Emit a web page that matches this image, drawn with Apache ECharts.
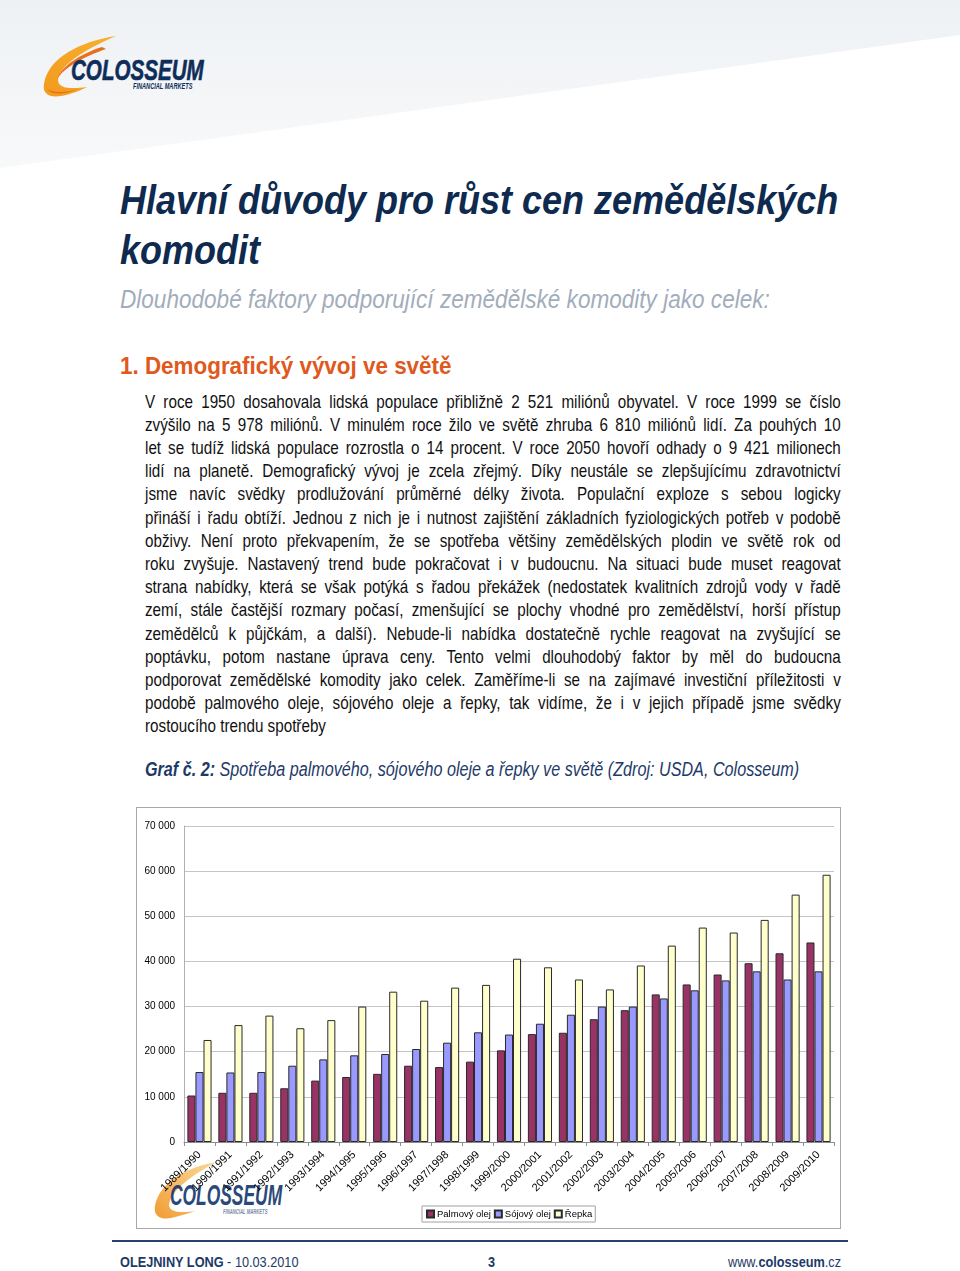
<!DOCTYPE html>
<html lang="cs">
<head>
<meta charset="utf-8">
<script src="https://cdn.jsdelivr.net/npm/echarts@6/dist/echarts.min.js"></script>
<style>
  html, body { margin: 0; padding: 0; }
  body { width: 960px; height: 1271px; position: relative; overflow: hidden; background: #fff;
         font-family: "Liberation Sans", Arial, sans-serif; }
  .topbg { position: absolute; left: 0; top: 0; width: 960px; height: 175px;
           background: linear-gradient(180deg, #eef1f4 0%, #f4f6f8 60%, #f8f9fa 100%);
           clip-path: polygon(0 0, 960px 0, 960px 35px, 0 168px); }
  .t { position: absolute; white-space: nowrap; transform-origin: 0 50%; }
  .title { left: 120px; font-size: 40px; font-weight: bold; font-style: italic; color: #0f2a4f;
           line-height: 50px; height: 50px; transform: scaleX(0.9); }
  .sub { left: 120px; top: 284px; font-size: 25.5px; font-style: italic; color: #a2adbb; line-height: 30px;
         transform: scaleX(0.885); }
  .head { left: 120px; top: 351px; font-size: 24.5px; font-weight: bold; color: #e0581c; line-height: 30px;
          transform: scaleX(0.915); }
  .pl { position: absolute; left: 145px; width: 809px; font-size: 17.7px; line-height: 23px; color: #111;
        white-space: nowrap; text-align: justify; text-align-last: justify; transform: scaleX(0.86);
        transform-origin: 0 50%; }
  .pl.last { text-align-last: left; }
  .cap { left: 145px; top: 757px; font-size: 19.5px; font-style: italic; color: #1e3a68; line-height: 24px;
         transform: scaleX(0.829); }
  .foot { top: 1252px; font-size: 15.5px; color: #1e3a68; line-height: 20px; transform: scaleX(0.82); }
  .footline { position: absolute; left: 112px; top: 1240px; width: 736px; height: 2px; background: #27416b; }
  #chartbox { position: absolute; left: 136px; top: 807px; width: 705px; height: 422px;
              border: 1px solid #a8a8a8; box-sizing: border-box; }
  #chart { position: absolute; left: 0; top: 0; width: 703px; height: 420px; }
  .logo-word { position: absolute; white-space: nowrap; font-weight: bold; font-style: italic;
               color: #0e2d5a; transform-origin: 0 0; }
</style>
</head>
<body>
<div class="topbg"></div>

<!-- header logo -->
<svg style="position:absolute;left:0;top:0" width="240" height="110">
  <defs>
    <linearGradient id="sw" x1="0" y1="1" x2="1" y2="0">
      <stop offset="0" stop-color="#f39a1e"/>
      <stop offset="1" stop-color="#f7b12e"/>
    </linearGradient>
  </defs>
  <path d="M116,36 C82,41 48,57 44,84 C42,94 50,98 61,96 C72,94 81,90 87,87 C72,89 58,89 58,80 C60,64 88,48 116,36 Z" fill="url(#sw)"/>
  <path d="M102,47 C80,54 62,66 57,79 C64,68 83,57 106,49 Z" fill="#e8701a"/>
  <path d="M47,89 C52,95 63,95 78,89 C65,93 54,93 47,89 Z" fill="#e8701a"/>
</svg>
<div class="logo-word" style="left:71px;top:54px;font-size:29px;line-height:32px;transform:scaleX(0.71);-webkit-text-stroke:0.6px #0e2d5a;">COLOSSEUM</div>
<div class="logo-word" style="left:133px;top:81px;font-size:8.5px;line-height:10px;transform:scaleX(0.66);">FINANCIAL MARKETS</div>

<div class="t title" style="top:175px;">Hlavní důvody pro růst cen zemědělských</div>
<div class="t title" style="top:225px;">komodit</div>
<div class="t sub">Dlouhodobé faktory podporující zemědělské komodity jako celek:</div>
<div class="t head">1. Demografický vývoj ve světě</div>

<div id="para"></div>

<div class="t cap"><b>Graf č. 2:</b> Spotřeba palmového, sójového oleje a řepky ve světě (Zdroj: USDA, Colosseum)</div>

<div id="chartbox">
  <!-- watermark logo behind the chart -->
  <svg style="position:absolute;left:12px;top:348px;opacity:0.9" width="70" height="70">
    <defs>
      <linearGradient id="sw2" x1="0" y1="1" x2="1" y2="0">
        <stop offset="0" stop-color="#f0901c"/>
        <stop offset="1" stop-color="#f7b640" stop-opacity="0.6"/>
      </linearGradient>
    </defs>
    <path d="M68,6 C40,10 10,26 6,50 C4,60 12,64 22,62 C32,60 40,57 46,55 C34,57 20,57 20,49 C22,34 44,18 68,6 Z" fill="url(#sw2)"/>
  </svg>
  <div class="logo-word" style="left:33px;top:372px;font-size:29px;line-height:30px;transform:scaleX(0.6);color:#173a6e;opacity:0.92;">COLOSSEUM</div>
  <div class="logo-word" style="left:86px;top:400px;font-size:7px;line-height:8px;transform:scaleX(0.6);color:#7a8aa5;">FINANCIAL MARKETS</div>
  <div id="chart"></div>
</div>

<div class="footline"></div>
<div class="t foot" style="left:120px;"><b>OLEJNINY LONG</b> - 10.03.2010</div>
<div class="t foot" style="left:488px;"><b>3</b></div>
<div class="t foot" id="www" style="left:726px;">www.<b>colosseum</b>.cz</div>

<script>
// ---- paragraph text (line by line, as in the reference) ----
const paragraphLines = [
  "V roce 1950 dosahovala lidská populace přibližně 2 521 miliónů obyvatel. V roce 1999 se číslo",
  "zvýšilo na 5 978 miliónů. V minulém roce žilo ve světě zhruba 6 810 miliónů lidí. Za pouhých 10",
  "let se tudíž lidská populace rozrostla o 14 procent. V roce 2050 hovoří odhady o 9 421 milionech",
  "lidí na planetě. Demografický vývoj je zcela zřejmý. Díky neustále se zlepšujícímu zdravotnictví",
  "jsme navíc svědky prodlužování průměrné délky života. Populační exploze s sebou logicky",
  "přináší i řadu obtíží. Jednou z nich je i nutnost zajištění základních fyziologických potřeb v podobě",
  "obživy. Není proto překvapením, že se spotřeba většiny zemědělských plodin ve světě rok od",
  "roku zvyšuje. Nastavený trend bude pokračovat i v budoucnu. Na situaci bude muset reagovat",
  "strana nabídky, která se však potýká s řadou překážek (nedostatek kvalitních zdrojů vody v řadě",
  "zemí, stále častější rozmary počasí, zmenšující se plochy vhodné pro zemědělství, horší přístup",
  "zemědělců k půjčkám, a další).  Nebude-li nabídka dostatečně rychle reagovat na zvyšující se",
  "poptávku, potom nastane úprava ceny. Tento velmi dlouhodobý faktor by měl do budoucna",
  "podporovat zemědělské komodity jako celek. Zaměříme-li se na zajímavé investiční příležitosti v",
  "podobě palmového oleje, sójového oleje a řepky, tak vidíme, že i v jejich případě jsme svědky",
  "rostoucího trendu spotřeby"
];
const para = document.getElementById('para');
paragraphLines.forEach((txt, i) => {
  const d = document.createElement('div');
  d.className = 'pl' + (i === paragraphLines.length - 1 ? ' last' : '');
  d.style.top = (390.5 + i * 23.21) + 'px';
  d.textContent = txt;
  para.appendChild(d);
});

// ---- chart data ----
const categories = ['1989/1990','1990/1991','1991/1992','1992/1993','1993/1994','1994/1995','1995/1996',
  '1996/1997','1997/1998','1998/1999','1999/2000','2000/2001','2001/2002','2002/2003','2003/2004',
  '2004/2005','2005/2006','2006/2007','2007/2008','2008/2009','2009/2010'];
const palmOil  = [10300,10900,10900,11900,13600,14400,15100,16900,16600,17800,20300,23900,24200,27200,29200,32700,34900,37100,39600,41800,44200];
const soyOil   = [15500,15400,15500,16900,18300,19200,19500,20600,22000,24300,23800,26200,28200,30000,30000,31800,33600,35800,37800,36000,37800];
const rapeseed = [22600,25900,28000,25200,27000,30000,33300,31300,34200,34800,40600,38700,36000,33800,39100,43500,47500,46400,49200,54800,59200];
const seriesNames = ['Palmový olej', 'Sójový olej', 'Řepka'];
const yMin = 0, yMax = 70000, yStep = 10000;

const colors = ['#993366', '#9999ff', '#ffffcc'];
const fmt = v => String(v).replace(/\B(?=(\d{3})+(?!\d))/g, ' ');

const chart = echarts.init(document.getElementById('chart'), null, { renderer: 'canvas' });
const mk = (name, data, i) => ({
  name, type: 'bar', data,
  barGap: '0%', barCategoryGap: '22%',
  itemStyle: { color: colors[i], borderColor: '#2a2a2a', borderWidth: 1 },
  emphasis: { disabled: true },
  animation: false
});
chart.setOption({
  backgroundColor: 'transparent',
  animation: false,
  textStyle: { fontFamily: 'Liberation Sans, Arial, sans-serif' },
  grid: { left: 47, right: 6, top: 18, bottom: 86, containLabel: false },
  legend: {
    data: seriesNames, left: 285, top: 398, icon: 'rect', itemWidth: 7, itemHeight: 7, itemGap: 3,
    borderColor: '#a0a0a0', borderWidth: 1, padding: [3, 3, 3, 4],
    textStyle: { fontSize: 9.5, color: '#000', padding: [0, 0, 0, -2] }
  },
  xAxis: {
    type: 'category', data: categories,
    axisLine: { show: true, lineStyle: { color: '#8c8c8c', width: 1 } },
    axisTick: { show: true, length: 4, alignWithLabel: false, lineStyle: { color: '#8c8c8c' } },
    axisLabel: { interval: 0, rotate: 45, fontSize: 11, color: '#000', margin: 11 }
  },
  yAxis: {
    type: 'value', min: yMin, max: yMax, interval: yStep,
    axisLine: { show: true, lineStyle: { color: '#b0b0b0' } },
    axisTick: { show: false },
    axisLabel: { fontSize: 10, color: '#000', margin: 9, formatter: fmt },
    splitLine: { show: true, lineStyle: { color: '#c4c4c4', width: 1 } }
  },
  series: [mk(seriesNames[0], palmOil, 0), mk(seriesNames[1], soyOil, 1), mk(seriesNames[2], rapeseed, 2)]
});

// right-align footer url to x=841
const w = document.getElementById('www');
const r = w.getBoundingClientRect();
w.style.left = (726 + (841 - r.right)) + 'px';
</script>
</body>
</html>
